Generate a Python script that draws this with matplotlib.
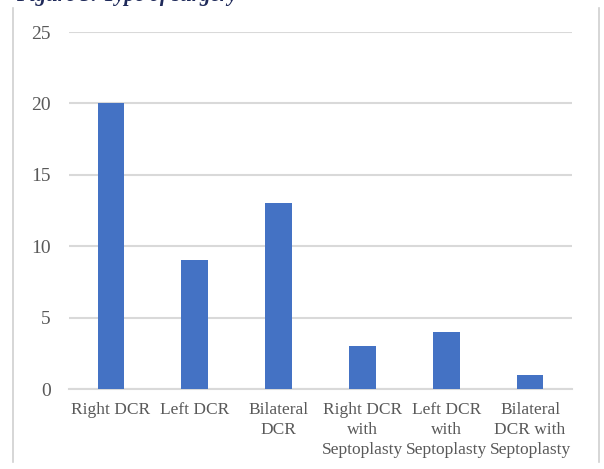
import matplotlib.pyplot as plt
from matplotlib.lines import Line2D

# data
categories = ["Right DCR", "Left DCR", "Bilateral\nDCR",
              "Right DCR\nwith\nSeptoplasty", "Left DCR\nwith\nSeptoplasty",
              "Bilateral\nDCR with\nSeptoplasty"]
counts = [20, 9, 13, 3, 4, 1]
y_ticks = [0, 5, 10, 15, 20, 25]

W, H = 604, 469
fig = plt.figure(figsize=(W / 100, H / 100), dpi=100)
ax = fig.add_axes([69 / W, 1 - 389 / H, (572 - 69) / W, (389 - 32) / H])

text_color = '#595959'
grid_color = '#d9d9d9'

x = range(len(categories))
ax.bar(x, counts, width=0.32, color='#4472C4', zorder=3)

ax.set_xlim(-0.5, len(categories) - 0.5)
ax.set_ylim(0, 25)
ax.set_yticks(y_ticks)
ax.set_xticks(list(x))
ax.set_xticklabels(categories, fontsize=12.5, color=text_color,
                   family=['Liberation Serif'], linespacing=1.35)
for lbl in ax.get_yticklabels():
    lbl.set_fontsize(14)
    lbl.set_color(text_color)
    lbl.set_family(['Liberation Serif'])

ax.yaxis.grid(True, color=grid_color, linewidth=1.5, zorder=0)
ax.tick_params(axis='both', length=0)
ax.tick_params(axis='y', pad=13)
ax.tick_params(axis='x', pad=9)
for side in ['top', 'right', 'left']:
    ax.spines[side].set_visible(False)
ax.spines['bottom'].set_color(grid_color)
ax.spines['bottom'].set_linewidth(1.5)

# frame lines at the sides of the picture
for px in (13, 599):
    fig.add_artist(Line2D([px / W, px / W], [1 - 8 / H, 1 - 462 / H],
                          color='#d0d0d0', linewidth=1.2))

# caption cut off at the top edge, as in the reference
fig.text(16 / W, 1 - 0.5 / H, "Figure 5: Type of surgery", color='#1f2a5a',
         fontsize=15, style='italic', fontweight='bold', va='baseline',
         family=['Liberation Serif'])

fig.savefig("out.png", dpi=100)
